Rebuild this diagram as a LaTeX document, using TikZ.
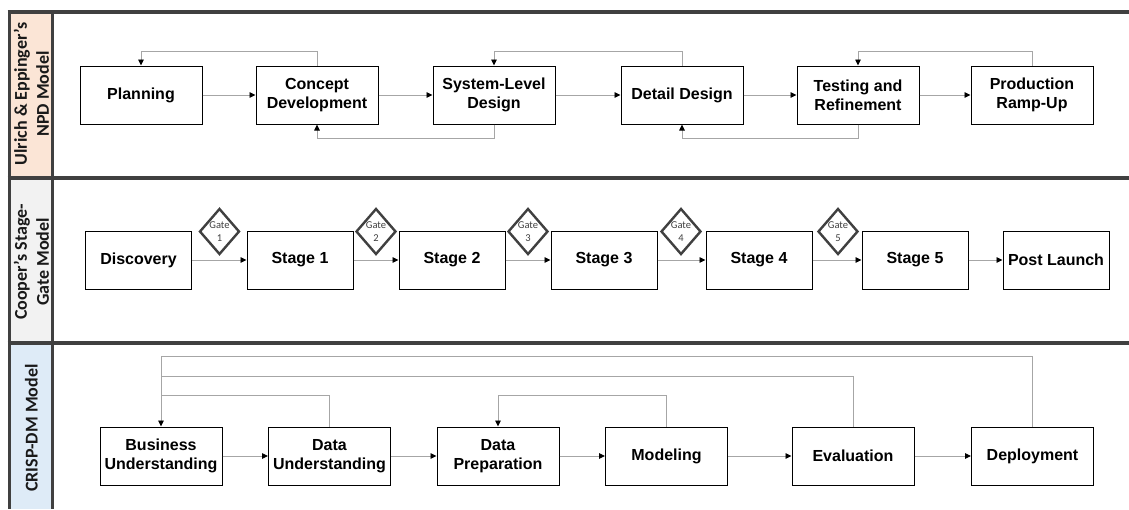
\documentclass[tikz,border=0pt]{standalone}
\usepackage{fontspec}
\setmainfont{Liberation Sans}
\newfontfamily\carlito{Carlito}
\usetikzlibrary{arrows.meta,shapes.geometric}
\definecolor{lanerule}{HTML}{404040}
\definecolor{peach}{HTML}{FBE5D6}
\definecolor{paleblue}{HTML}{DEEBF7}
\definecolor{palegrey}{HTML}{F2F2F2}
\definecolor{linkgrey}{HTML}{A6A6A6}
\definecolor{gatetxt}{HTML}{404040}
\tikzset{
  stepbox/.style={draw=black, line width=1pt, fill=white, inner sep=2pt,
    minimum height=58pt, align=center,
    font=\fontsize{16}{19}\selectfont\bfseries},
  wide/.style={minimum width=122pt},
  narrow/.style={minimum width=106pt},
  flow/.style={draw=linkgrey, line width=0.9pt,
    -{Triangle[length=6pt,width=5.5pt,color=black]}},
  link/.style={draw=linkgrey, line width=0.9pt},
  gate/.style={diamond, draw=lanerule, line width=2.4pt, fill=white,
    minimum width=40pt, minimum height=46pt, inner sep=0pt},
  gatelabel/.style={text=gatetxt, align=center, inner sep=0pt,
    font=\carlito\fontsize{10.5}{13}\selectfont},
  lanelabel/.style={rotate=90, align=center, text=black!90,
    font=\carlito\fontsize{18}{22}\selectfont\bfseries},
  rule/.style={draw=lanerule, line width=3.5pt},
  vrule/.style={draw=lanerule, line width=3pt}
}
\begin{document}
\begin{tikzpicture}[x=1pt, y=-1pt]
\useasboundingbox (0,0) rectangle (1129,509);

% lane title columns
\fill[peach] (9,12) rectangle (52,178);
\fill[palegrey] (9,178) rectangle (52,343);
\fill[paleblue] (9,343) rectangle (52,509);

% lane frame
\draw[rule] (7.5,12) -- (1129,12);
\draw[rule] (7.5,178) -- (1129,178);
\draw[rule] (7.5,343) -- (1129,343);
\draw[vrule] (9,10.5) -- (9,509);
\draw[vrule] (52,10.5) -- (52,509);

% lane titles
\node[lanelabel] (t1) at (31.5,94) {Ulrich \& Eppinger’s\\NPD Model};
\node[lanelabel] (t2) at (31.5,262) {Cooper’s Stage-\\Gate Model};
\node[lanelabel] (t3) at (31.5,428) {CRISP-DM Model};

% ---- NPD process
\node[stepbox, wide] (plan) at (141,95) {Planning};
\node[stepbox, wide] (concept) at (317,95) {Concept\\Development};
\node[stepbox, wide] (sysdes) at (494,95) {System-Level\\Design};
\node[stepbox, wide] (detail) at (682,95) {Detail Design};
\node[stepbox, wide] (testing) at (858,95) {Testing and\\Refinement};
\node[stepbox, wide] (prod) at (1032,95) {Production\\Ramp-Up};

\draw[flow] (plan) -- (concept);
\draw[flow] (concept) -- (sysdes);
\draw[flow] (sysdes) -- (detail);
\draw[flow] (detail) -- (testing);
\draw[flow] (testing) -- (prod);

\draw[flow] (concept.north) -- ++(0,-14) -| (plan.north);
\draw[flow] (sysdes.south) -- ++(0,14) -| (concept.south);
\draw[flow] (detail.north) -- ++(0,-14) -| (sysdes.north);
\draw[flow] (testing.south) -- ++(0,14) -| (detail.south);
\draw[flow] (prod.north) -- ++(0,-14) -| (testing.north);

% ---- Stage-Gate process
\node[stepbox, narrow] (disc) at (138.5,260) {Discovery};
\node[stepbox, narrow] (s1) at (300,260) {Stage 1};
\node[stepbox, narrow] (s2) at (452,260) {Stage 2};
\node[stepbox, narrow] (s3) at (604,260) {Stage 3};
\node[stepbox, narrow] (s4) at (759,260) {Stage 4};
\node[stepbox, narrow] (s5) at (915,260) {Stage 5};
\node[stepbox, narrow] (post) at (1056,260) {Post Launch};

\draw[flow] (disc) -- (s1);
\draw[flow] (s1) -- (s2);
\draw[flow] (s2) -- (s3);
\draw[flow] (s3) -- (s4);
\draw[flow] (s4) -- (s5);
\draw[flow] (s5) -- (post);

\node[gate] (g1) at (219.5,231.5) {};
\node[gate] (g2) at (376,231.5) {};
\node[gate] (g3) at (528,231.5) {};
\node[gate] (g4) at (681,231.5) {};
\node[gate] (g5) at (838,231.5) {};
\node[gatelabel] (g1t) at (g1) {Gate\\1};
\node[gatelabel] (g2t) at (g2) {Gate\\2};
\node[gatelabel] (g3t) at (g3) {Gate\\3};
\node[gatelabel] (g4t) at (g4) {Gate\\4};
\node[gatelabel] (g5t) at (g5) {Gate\\5};

% ---- CRISP-DM process
\node[stepbox, wide] (bu) at (161,456) {Business\\Understanding};
\node[stepbox, wide] (du) at (329.5,456) {Data\\Understanding};
\node[stepbox, wide] (dp) at (498,456) {Data\\Preparation};
\node[stepbox, wide] (mod) at (666.5,456) {Modeling};
\node[stepbox, wide] (eval) at (853,456) {Evaluation};
\node[stepbox, wide] (deploy) at (1032.5,456) {Deployment};

\draw[flow] (bu) -- (du);
\draw[flow] (du) -- (dp);
\draw[flow] (dp) -- (mod);
\draw[flow] (mod) -- (eval);
\draw[flow] (eval) -- (deploy);

\coordinate (y376) at (0,376.5);
\coordinate (y395) at (0,395.5);
\draw[flow] (deploy.north) -- ++(0,-70) -| (bu.north);
\draw[link] (eval.north) |- (bu.north |- y376);
\draw[link] (du.north) |- (bu.north |- y395);
\draw[flow] (mod.north) -- ++(0,-31.5) -| (dp.north);
\end{tikzpicture}
\end{document}
